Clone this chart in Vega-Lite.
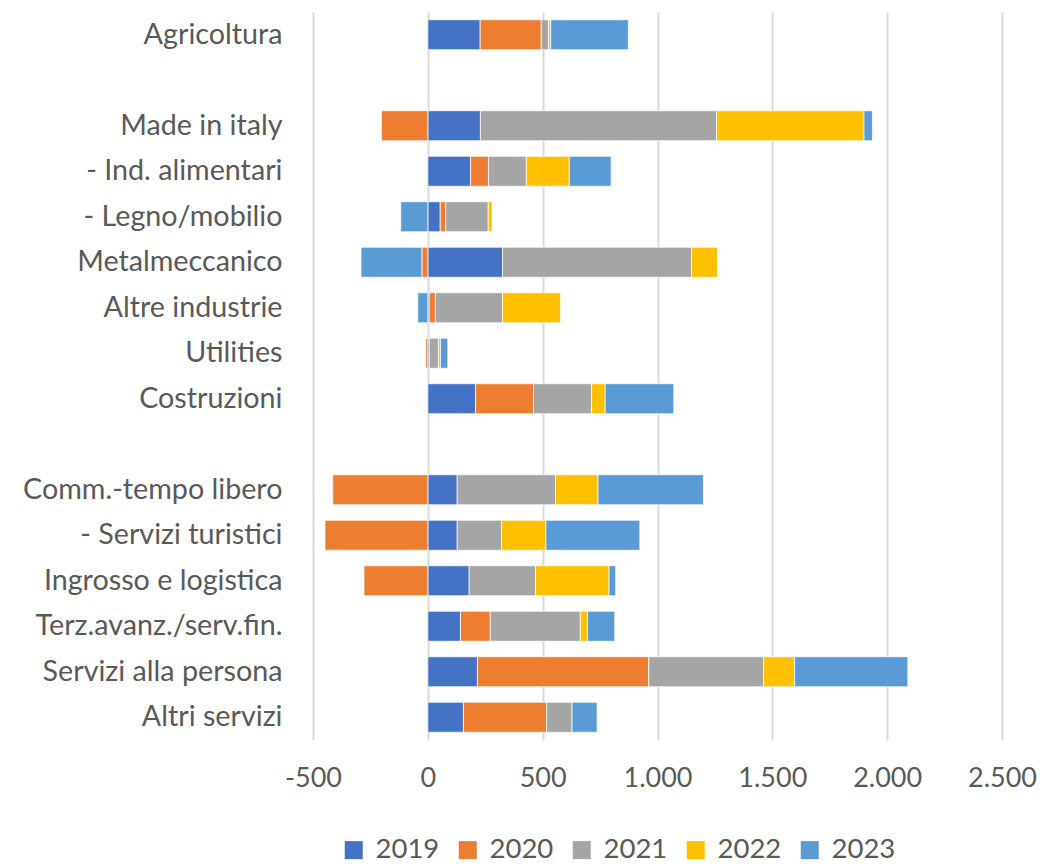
{
  "$schema": "https://vega.github.io/schema/vega-lite/v6.json",
  "width": 689,
  "height": 728,
  "autosize": {"type": "none"},
  "padding": {"left": 313, "top": 12, "right": 39, "bottom": 126},
  "background": "white",
  "config": {"view": {"stroke": null}, "font": "Lato"},
  "data": {"values": [
    {"cat": "Agricoltura", "year": "2019", "value": 228},
    {"cat": "Agricoltura", "year": "2020", "value": 266},
    {"cat": "Agricoltura", "year": "2021", "value": 31},
    {"cat": "Agricoltura", "year": "2022", "value": 10},
    {"cat": "Agricoltura", "year": "2023", "value": 338},
    {"cat": "Made in italy", "year": "2019", "value": 229},
    {"cat": "Made in italy", "year": "2020", "value": -202},
    {"cat": "Made in italy", "year": "2021", "value": 1028},
    {"cat": "Made in italy", "year": "2022", "value": 642},
    {"cat": "Made in italy", "year": "2023", "value": 37},
    {"cat": "- Ind. alimentari", "year": "2019", "value": 186},
    {"cat": "- Ind. alimentari", "year": "2020", "value": 78},
    {"cat": "- Ind. alimentari", "year": "2021", "value": 165},
    {"cat": "- Ind. alimentari", "year": "2022", "value": 187},
    {"cat": "- Ind. alimentari", "year": "2023", "value": 182},
    {"cat": "- Legno/mobilio", "year": "2019", "value": 54},
    {"cat": "- Legno/mobilio", "year": "2020", "value": 24},
    {"cat": "- Legno/mobilio", "year": "2021", "value": 185},
    {"cat": "- Legno/mobilio", "year": "2022", "value": 17},
    {"cat": "- Legno/mobilio", "year": "2023", "value": -118},
    {"cat": "Metalmeccanico", "year": "2019", "value": 325},
    {"cat": "Metalmeccanico", "year": "2020", "value": -26},
    {"cat": "Metalmeccanico", "year": "2021", "value": 823},
    {"cat": "Metalmeccanico", "year": "2022", "value": 113},
    {"cat": "Metalmeccanico", "year": "2023", "value": -265},
    {"cat": "Altre industrie", "year": "2019", "value": 6},
    {"cat": "Altre industrie", "year": "2020", "value": 27},
    {"cat": "Altre industrie", "year": "2021", "value": 292},
    {"cat": "Altre industrie", "year": "2022", "value": 253},
    {"cat": "Altre industrie", "year": "2023", "value": -44},
    {"cat": "Utilities", "year": "2019", "value": 6},
    {"cat": "Utilities", "year": "2020", "value": -9},
    {"cat": "Utilities", "year": "2021", "value": 40},
    {"cat": "Utilities", "year": "2022", "value": 9},
    {"cat": "Utilities", "year": "2023", "value": 32},
    {"cat": "Costruzioni", "year": "2019", "value": 208},
    {"cat": "Costruzioni", "year": "2020", "value": 252},
    {"cat": "Costruzioni", "year": "2021", "value": 253},
    {"cat": "Costruzioni", "year": "2022", "value": 59},
    {"cat": "Costruzioni", "year": "2023", "value": 299},
    {"cat": "Comm.-tempo libero", "year": "2019", "value": 128},
    {"cat": "Comm.-tempo libero", "year": "2020", "value": -414},
    {"cat": "Comm.-tempo libero", "year": "2021", "value": 428},
    {"cat": "Comm.-tempo libero", "year": "2022", "value": 185},
    {"cat": "Comm.-tempo libero", "year": "2023", "value": 459},
    {"cat": "- Servizi turistici", "year": "2019", "value": 128},
    {"cat": "- Servizi turistici", "year": "2020", "value": -448},
    {"cat": "- Servizi turistici", "year": "2021", "value": 193},
    {"cat": "- Servizi turistici", "year": "2022", "value": 193},
    {"cat": "- Servizi turistici", "year": "2023", "value": 409},
    {"cat": "Ingrosso e logistica\u00a0", "year": "2019", "value": 180},
    {"cat": "Ingrosso e logistica\u00a0", "year": "2020", "value": -278},
    {"cat": "Ingrosso e logistica\u00a0", "year": "2021", "value": 289},
    {"cat": "Ingrosso e logistica\u00a0", "year": "2022", "value": 320},
    {"cat": "Ingrosso e logistica\u00a0", "year": "2023", "value": 29},
    {"cat": "Terz.avanz./serv.fin.", "year": "2019", "value": 142},
    {"cat": "Terz.avanz./serv.fin.", "year": "2020", "value": 130},
    {"cat": "Terz.avanz./serv.fin.", "year": "2021", "value": 392},
    {"cat": "Terz.avanz./serv.fin.", "year": "2022", "value": 31},
    {"cat": "Terz.avanz./serv.fin.", "year": "2023", "value": 119},
    {"cat": "Servizi alla persona", "year": "2019", "value": 216},
    {"cat": "Servizi alla persona", "year": "2020", "value": 746},
    {"cat": "Servizi alla persona", "year": "2021", "value": 500},
    {"cat": "Servizi alla persona", "year": "2022", "value": 135},
    {"cat": "Servizi alla persona", "year": "2023", "value": 493},
    {"cat": "Altri servizi", "year": "2019", "value": 155},
    {"cat": "Altri servizi", "year": "2020", "value": 362},
    {"cat": "Altri servizi", "year": "2021", "value": 111},
    {"cat": "Altri servizi", "year": "2023", "value": 109}
  ]},
  "mark": {"type": "bar", "stroke": "white", "strokeWidth": 0.75},
  "encoding": {
    "y": {
      "field": "cat",
      "type": "nominal",
      "scale": {
        "domain": ["Agricoltura", " ", "Made in italy", "- Ind. alimentari", "- Legno/mobilio", "Metalmeccanico", "Altre industrie", "Utilities", "Costruzioni", "  ", "Comm.-tempo libero", "- Servizi turistici", "Ingrosso e logistica\u00a0", "Terz.avanz./serv.fin.", "Servizi alla persona", "Altri servizi"],
        "paddingInner": 0.34,
        "paddingOuter": 0.17
      },
      "axis": {"title": null, "domain": false, "ticks": false, "grid": false, "labelFontSize": 28.7, "labelColor": "#595959", "labelPadding": 31, "labelLimit": 400, "labelFont": "Lato"}
    },
    "x": {
      "field": "value",
      "type": "quantitative",
      "stack": "zero",
      "scale": {"domain": [-500, 2500], "nice": false, "zero": false},
      "axis": {
        "title": null,
        "values": [-500, 0, 500, 1000, 1500, 2000, 2500],
        "domain": false,
        "ticks": false,
        "grid": true,
        "gridColor": "#d9d9d9",
        "gridWidth": 2,
        "labelFontSize": 27,
        "labelColor": "#595959",
        "labelPadding": 25,
        "labelFont": "Lato",
        "labelFlush": false,
        "labelBound": false,
        "labelOverlap": false,
        "labelExpr": "replace(replace(format(datum.value, ','), ',', '.'), '\u2212', '-')"
      }
    },
    "color": {
      "field": "year",
      "type": "nominal",
      "scale": {"domain": ["2019", "2020", "2021", "2022", "2023"], "range": ["#4472C4", "#ED7D31", "#A5A5A5", "#FFC000", "#5B9BD5"]},
      "legend": {
        "title": null,
        "orient": "none",
        "legendX": 27,
        "legendY": 824,
        "direction": "horizontal",
        "symbolType": "square",
        "symbolSize": 324,
        "symbolStrokeWidth": 0,
        "labelFontSize": 27.5,
        "labelColor": "#595959",
        "labelFont": "Lato",
        "labelOffset": 8,
        "columnPadding": 14
      }
    },
    "order": {"field": "year", "type": "ordinal", "sort": "ascending"}
  }
}
